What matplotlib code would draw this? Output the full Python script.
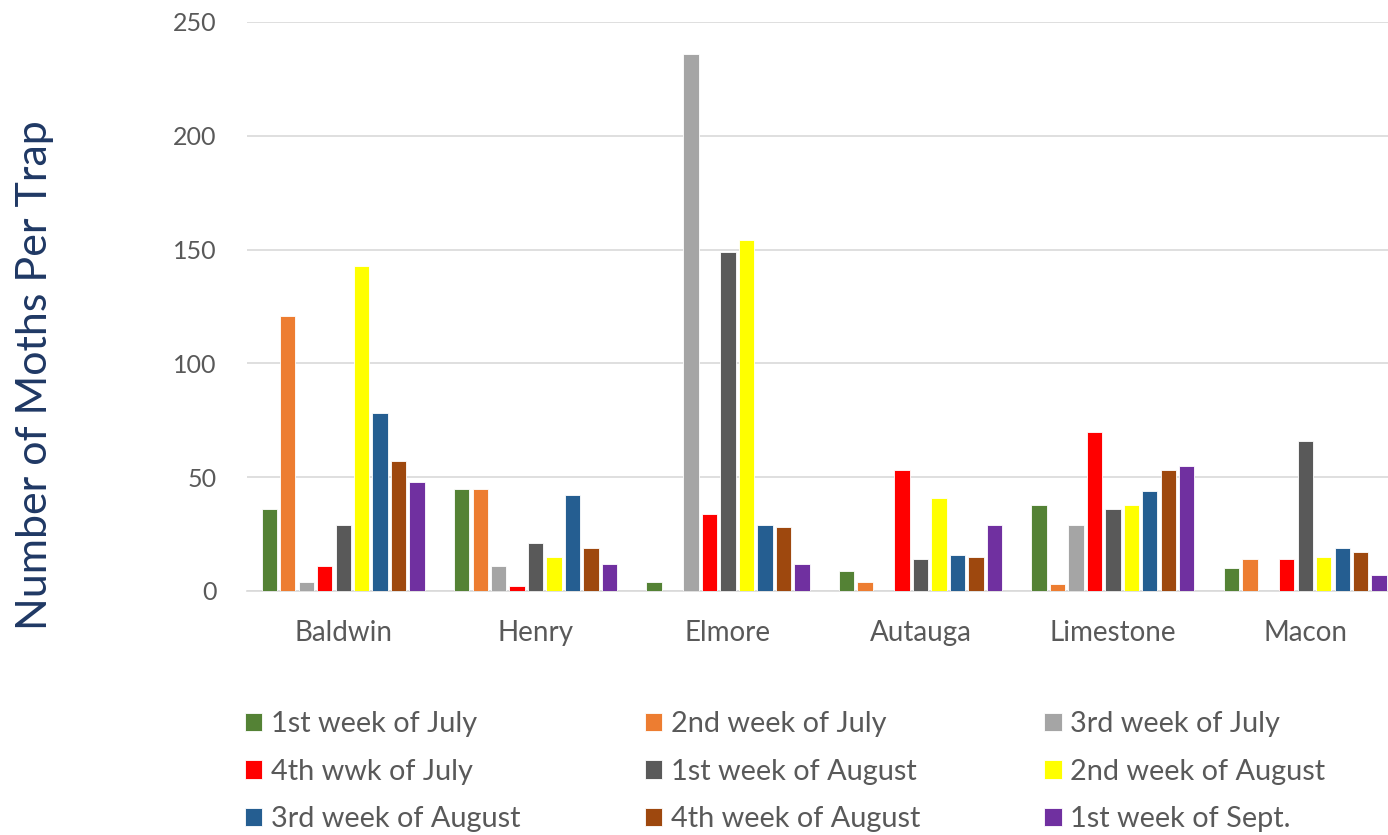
import numpy as np
import matplotlib.pyplot as plt

plt.rcParams['font.family'] = ['Lato', 'DejaVu Sans']

counties = ['Baldwin', 'Henry', 'Elmore', 'Autauga', 'Limestone', 'Macon']

week_labels = ['1st week of July', '2nd week of July', '3rd week of July',
               '4th wwk of July', '1st week of August', '2nd week of August',
               '3rd week of August', '4th week of August', '1st week of Sept.']
week_colors = ['#548235', '#ED7D31', '#A5A5A5', '#FF0000', '#595959',
               '#FFFF00', '#255E91', '#9E480E', '#7030A0']

jul1 = [36, 45, 4, 9, 38, 10]
jul2 = [121, 45, 0, 4, 3, 14]
jul3 = [4, 11, 236, 0, 29, 0]
jul4 = [11, 2, 34, 53, 70, 14]
aug1 = [29, 21, 149, 14, 36, 66]
aug2 = [143, 15, 154, 41, 38, 15]
aug3 = [78, 42, 29, 16, 44, 19]
aug4 = [57, 19, 28, 15, 53, 17]
sep1 = [48, 12, 12, 29, 55, 7]
series = [jul1, jul2, jul3, jul4, aug1, aug2, aug3, aug4, sep1]

fig = plt.figure(figsize=(13.88, 8.35), dpi=100)
ax = fig.add_axes([247 / 1388, 1 - 591 / 835, 1141 / 1388, 569 / 835])

x = np.arange(len(counties))
step = 0.096
width = 0.08
for i, (vals, lab, col) in enumerate(zip(series, week_labels, week_colors)):
    ax.bar(x + (i - 4) * step, vals, width, color=col, label=lab,
           edgecolor='white', linewidth=0.6, zorder=3)

ax.set_xlim(-0.5, 5.43)
ax.set_ylim(0, 250)
ax.set_yticks([0, 50, 100, 150, 200, 250])
ax.set_xticks(x)
ax.set_xticklabels(counties)
ax.grid(axis='y', color='#D9D9D9', linewidth=1.2, zorder=0)
for s in ['top', 'right', 'left']:
    ax.spines[s].set_visible(False)
ax.spines['bottom'].set_color('#D9D9D9')
ax.spines['bottom'].set_linewidth(1.2)
ax.tick_params(axis='both', length=0, colors='#595959')
ax.tick_params(axis='y', pad=22, labelsize=18)
ax.tick_params(axis='x', pad=21, labelsize=20)

fig.text(35 / 1388, 1 - 375 / 835, 'Number of Moths Per Trap', rotation=90,
         ha='center', va='center', fontsize=31, color='#1F3864')

# legend is filled row by row in the reference
handles, labels = ax.get_legend_handles_labels()
order = [0, 3, 6, 1, 4, 7, 2, 5, 8]
fig.legend([handles[k] for k in order], [labels[k] for k in order],
           ncol=3, loc='upper left',
           bbox_to_anchor=(219 / 1388, 1 - 685 / 835),
           frameon=False, fontsize=20.8, labelcolor='#595959',
           handlelength=0.6, handleheight=0.6, handletextpad=0.3,
           columnspacing=4.3, labelspacing=0.75)

fig.savefig('out.png', dpi=100)
